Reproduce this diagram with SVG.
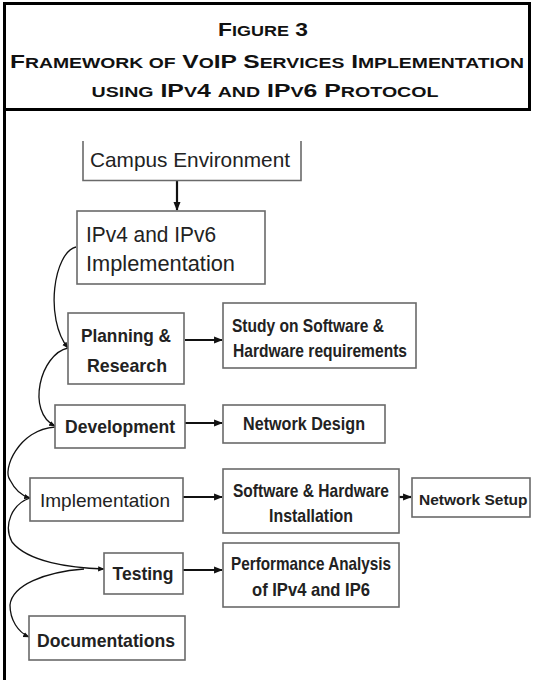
<svg xmlns="http://www.w3.org/2000/svg" width="533" height="680" viewBox="0 0 533 680">
<defs>
<style>
.hd{font-family:"Liberation Sans",Arial,sans-serif;font-weight:bold;font-size:19px;fill:#111;text-anchor:middle}
.sc{font-size:15px}
.box{fill:#fff;stroke:#6a6a6a;stroke-width:1.6}
.t{font-family:"Liberation Sans",Arial,sans-serif;fill:#222}
.n{font-family:"Liberation Sans",Arial,sans-serif;font-weight:bold;fill:#222}
.conn{fill:none;stroke:#111;stroke-width:1.3}
.arr{fill:none;stroke:#111;stroke-width:2.2}
</style>
<marker id="ah" viewBox="0 0 10 10" refX="9" refY="5" markerWidth="4" markerHeight="4" orient="auto" markerUnits="strokeWidth">
<path d="M0,1 L10,5 L0,9 Z" fill="#111"/>
</marker>
<marker id="ahs" viewBox="0 0 10 10" refX="9" refY="5" markerWidth="5" markerHeight="5" orient="auto" markerUnits="strokeWidth">
<path d="M0,1 L10,5 L0,9 Z" fill="#111"/>
</marker>
</defs>
<rect x="0" y="0" width="533" height="680" fill="#fff"/>
<g id="frame">
<rect x="4.5" y="3.5" width="525" height="106" fill="none" stroke="#000" stroke-width="3"/>
<line x1="4.5" y1="109" x2="4.5" y2="680" stroke="#000" stroke-width="3"/>
</g>
<g id="title">
<text class="hd" x="263" y="36" textLength="90" lengthAdjust="spacingAndGlyphs">F<tspan class="sc">IGURE</tspan> 3</text>
<text class="hd" x="267" y="68" textLength="514" lengthAdjust="spacingAndGlyphs">F<tspan class="sc">RAMEWORK OF</tspan> V<tspan class="sc">O</tspan>IP S<tspan class="sc">ERVICES</tspan> I<tspan class="sc">MPLEMENTATION</tspan></text>
<text class="hd" x="265" y="97" textLength="347" lengthAdjust="spacingAndGlyphs"><tspan class="sc">USING</tspan> IP<tspan class="sc">V</tspan>4 <tspan class="sc">AND</tspan> IP<tspan class="sc">V</tspan>6 P<tspan class="sc">ROTOCOL</tspan></text>
</g>
<g id="connectors">
<line class="arr" x1="177" y1="181" x2="177" y2="210" marker-end="url(#ah)"/>
<line class="arr" x1="185" y1="340" x2="222" y2="340" marker-end="url(#ah)"/>
<line class="arr" x1="185" y1="423" x2="222" y2="423" marker-end="url(#ah)"/>
<line class="arr" x1="183" y1="497" x2="222" y2="497" marker-end="url(#ah)"/>
<line class="arr" x1="399" y1="497" x2="411" y2="497" marker-end="url(#ah)"/>
<line class="arr" x1="183" y1="570" x2="222" y2="570" marker-end="url(#ah)"/>
<path class="conn" d="M76 247 C54 252,44 318,68 348" marker-end="url(#ahs)"/>
<path class="conn" d="M68 348 C40 354,26 412,55 426" marker-end="url(#ahs)"/>
<path class="conn" d="M55 427 C18 430,2 470,10 480 C15 490,22 496,30 498" marker-end="url(#ahs)"/>
<path class="conn" d="M30 498 C12 504,3 525,12 542 C28 562,70 568,104 569" marker-end="url(#ahs)"/>
<path class="conn" d="M84 569 C45 572,12 585,10 605 C10 620,18 632,29 637" marker-end="url(#ahs)"/>
</g>
<g id="campus">
<path d="M83 141 V180.5 H301 V141" fill="#fff" stroke="#6a6a6a" stroke-width="1.6"/>
<text class="t" x="90" y="167" font-size="21" textLength="200" lengthAdjust="spacingAndGlyphs">Campus Environment</text>
</g>
<g id="ipv4ipv6">
<rect class="box" x="77" y="211" width="188" height="73"/>
<text class="t" x="86" y="242" font-size="22" textLength="130" lengthAdjust="spacingAndGlyphs">IPv4 and IPv6</text>
<text class="t" x="86" y="271" font-size="22" textLength="149" lengthAdjust="spacingAndGlyphs">Implementation</text>
</g>
<g id="planning">
<rect class="box" x="68" y="313" width="116" height="71"/>
<text class="n" x="126" y="342" font-size="19" text-anchor="middle" textLength="90" lengthAdjust="spacingAndGlyphs">Planning &amp;</text>
<text class="n" x="127" y="372" font-size="19" text-anchor="middle" textLength="80" lengthAdjust="spacingAndGlyphs">Research</text>
</g>
<g id="study">
<rect class="box" x="223" y="303" width="193" height="65"/>
<text class="n" x="232" y="332" font-size="19" textLength="152" lengthAdjust="spacingAndGlyphs">Study on Software &amp;</text>
<text class="n" x="233" y="357" font-size="19" textLength="174" lengthAdjust="spacingAndGlyphs">Hardware requirements</text>
</g>
<g id="development">
<rect class="box" x="55" y="405" width="130" height="43"/>
<text class="n" x="120" y="433" font-size="19" text-anchor="middle" textLength="110" lengthAdjust="spacingAndGlyphs">Development</text>
</g>
<g id="netdesign">
<rect class="box" x="223" y="405" width="162" height="38"/>
<text class="n" x="304" y="430" font-size="18" text-anchor="middle" textLength="122" lengthAdjust="spacingAndGlyphs">Network Design</text>
</g>
<g id="implementation">
<rect class="box" x="30" y="478" width="153" height="43"/>
<text class="t" x="105" y="507" font-size="19" text-anchor="middle" textLength="130" lengthAdjust="spacingAndGlyphs">Implementation</text>
</g>
<g id="install">
<rect class="box" x="223" y="469" width="176" height="64"/>
<text class="n" x="311" y="497" font-size="19" text-anchor="middle" textLength="156" lengthAdjust="spacingAndGlyphs">Software &amp; Hardware</text>
<text class="n" x="311" y="522" font-size="19" text-anchor="middle" textLength="84" lengthAdjust="spacingAndGlyphs">Installation</text>
</g>
<g id="netsetup">
<rect class="box" x="412" y="478" width="118" height="39"/>
<text class="n" x="419" y="505" font-size="15.5">Network Setup</text>
</g>
<g id="testing">
<rect class="box" x="104" y="553" width="79" height="41"/>
<text class="n" x="143" y="580" font-size="19" text-anchor="middle" textLength="61" lengthAdjust="spacingAndGlyphs">Testing</text>
</g>
<g id="performance">
<rect class="box" x="223" y="543" width="176" height="64"/>
<text class="n" x="311" y="570" font-size="19" text-anchor="middle" textLength="160" lengthAdjust="spacingAndGlyphs">Performance Analysis</text>
<text class="n" x="311" y="596" font-size="19" text-anchor="middle" textLength="118" lengthAdjust="spacingAndGlyphs">of IPv4 and IP6</text>
</g>
<g id="documentations">
<rect class="box" x="29" y="616" width="156" height="44"/>
<text class="n" x="106" y="647" font-size="19" text-anchor="middle" textLength="138" lengthAdjust="spacingAndGlyphs">Documentations</text>
</g>
</svg>
